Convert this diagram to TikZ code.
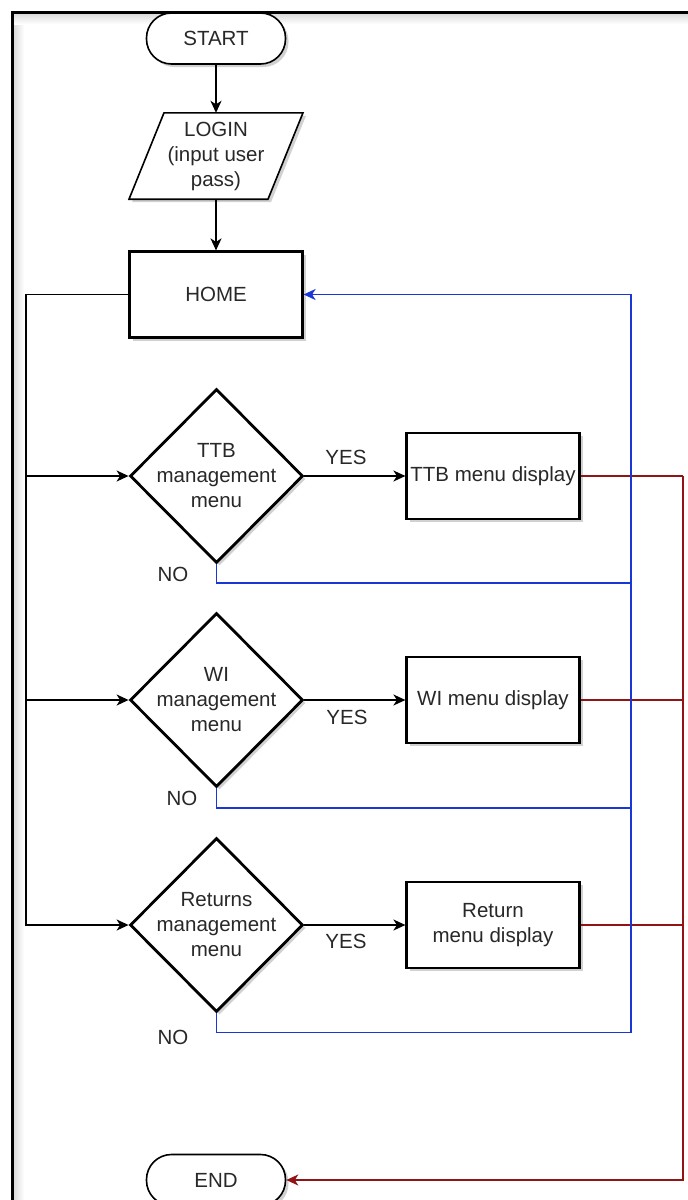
\documentclass[tikz,border=0pt]{standalone}
\usepackage{fontspec}
\setmainfont{Liberation Sans}
\usetikzlibrary{arrows.meta,shapes.geometric,shadows}
\definecolor{txt}{RGB}{40,40,40}
\definecolor{noblue}{RGB}{25,55,215}
\definecolor{endred}{RGB}{145,20,20}
\begin{document}
\begin{tikzpicture}[x=1pt,y=-1pt,
  font=\fontsize{20.5}{25}\selectfont, text=txt,
  shad/.style={drop shadow={shadow xshift=3pt,shadow yshift=-3pt,opacity=0.18,fill=black}},
  term/.style={draw=black, line width=1.6pt, fill=white, rounded corners=25pt, minimum width=139pt, minimum height=51pt, inner sep=0pt, shad},
  proc/.style={draw=black, line width=2.2pt, fill=white, minimum width=173pt, minimum height=86pt, inner sep=0pt, align=center, shad},
  dec/.style={draw=black, line width=2.8pt, fill=white, diamond, minimum width=173pt, minimum height=174pt, inner sep=0pt, shad},
  dectext/.style={align=center, inner sep=0pt},
  lbl/.style={inner sep=0pt},
  conn/.style={draw=black, line width=1.6pt},
  tip/.style={-{Stealth[length=12pt,width=11pt,inset=3.5pt]}},
  arr/.style={conn, tip},
  bl/.style={draw=noblue, line width=1.6pt},
  blarr/.style={bl, tip},
  rd/.style={draw=endred, line width=1.6pt},
  rdarr/.style={rd, tip},
]
\useasboundingbox (0,0) rectangle (688,1200);
\clip (0,0) rectangle (688,1200);
\fill[white] (0,0) rectangle (688,1200);
% frame with inner shade
\shade[left color=black!14, right color=white] (14,14) rectangle (24,1200);
\shade[top color=black!14, bottom color=white] (14,14) rectangle (688,24);
\draw[line width=3pt] (12.5,1300) -- (12.5,12.5) -- (800,12.5);

% nodes
\node[term] (start) at (216,38.5) {START};
\node[minimum width=139pt, minimum height=86pt, inner sep=0pt, align=center] (login) at (216,156) {};
\draw[line width=1.6pt, fill=white, shad] ([shift={(-52,0)}]login.north) -- ([shift={(87,0)}]login.north) -- ([shift={(52,0)}]login.south) -- ([shift={(-87,0)}]login.south) -- cycle;
\node[align=center, inner sep=0pt] (logint) at (216,156) {LOGIN\\(input user\\pass)};
\node[proc] (home) at (216,294.5) {HOME};

\node[dec] (ttb) at (216.5,476) {};
\node[dectext] (ttbt) at (ttb) {TTB\\management\\menu};
\node[proc] (ttbd) at (493,476) {TTB menu display};

\node[dec] (wi) at (216.5,700) {};
\node[dectext] (wit) at (wi) {WI\\management\\menu};
\node[proc] (wid) at (493,700) {WI menu display};

\node[dec] (ret) at (216.5,925) {};
\node[dectext] (rett) at (ret) {Returns\\management\\menu};
\node[proc] (retd) at (493,925) {Return\\menu display};

\node[term] (fin) at (216,1180) {END};

% coordinates
\coordinate (bTop) at (26,294.5);
\coordinate (b1) at (26,476);
\coordinate (b2) at (26,700);
\coordinate (b3) at (26,925);
\coordinate (n1) at (631,583);
\coordinate (n2) at (631,808);
\coordinate (n3) at (631,1032.5);
\coordinate (hR) at (631,294.5);
\coordinate (r1) at (683,476);
\coordinate (r2) at (683,700);
\coordinate (r3) at (683,925);
\coordinate (rE) at (683,1180);

% black connectors
\draw[arr] (start) -- (login);
\draw[arr] (login) -- (home);
\draw[arr] (home.west) -- (bTop) -- (b3) -- (ret.west);
\draw[arr] (b1) -- (ttb.west);
\draw[arr] (b2) -- (wi.west);
\draw[arr] (ttb.east) -- (ttbd.west);
\draw[arr] (wi.east) -- (wid.west);
\draw[arr] (ret.east) -- (retd.west);

% red connectors to END
\draw[rd] (ttbd.east) -- (r1);
\draw[rd] (wid.east) -- (r2);
\draw[rdarr] (retd.east) -- (r3) -- (rE) -- (fin.east);
\draw[rd] (r1) -- (r3);

% blue NO connectors back to HOME
\draw[bl] (ttb.south) |- (n1);
\draw[bl] (wi.south) |- (n2);
\draw[blarr] (ret.south) |- (n3) -- (hR) -- (home.east);

% labels
\node[lbl] (yes1) at (346,457) {YES};
\node[lbl] (yes2) at (347,717) {YES};
\node[lbl] (yes3) at (346,941) {YES};
\node[lbl] (no1) at (173,574) {NO};
\node[lbl] (no2) at (182,798.5) {NO};
\node[lbl] (no3) at (173,1037) {NO};
\end{tikzpicture}
\end{document}
